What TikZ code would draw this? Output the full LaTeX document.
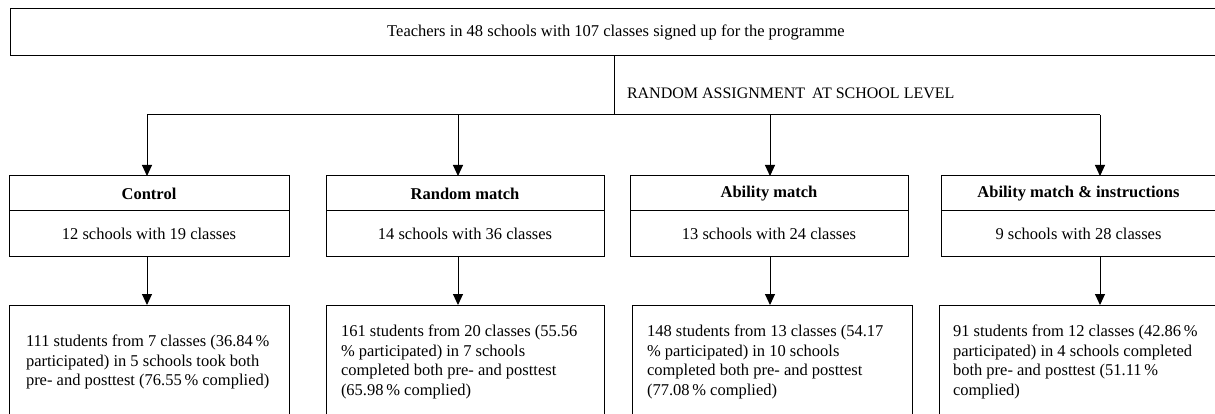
\documentclass[tikz,border=0pt]{standalone}
\usepackage{fontspec}
\setmainfont{Liberation Serif}
\usetikzlibrary{arrows.meta}
\begin{document}
\begin{tikzpicture}[x=1pt,y=-1pt,
  box/.style={draw=black, line width=1pt, inner sep=0pt, outer sep=0pt, anchor=north west,
    font=\fontsize{16.5}{19.5}\selectfont},
  txt/.style={inner sep=0pt, outer sep=0pt, align=left, anchor=west,
    font=\fontsize{16.5}{19.5}\selectfont},
  conn/.style={draw=black, line width=1pt},
  arr/.style={conn, -{Triangle[width=10pt,length=11pt]}}
]
\useasboundingbox (0,0) rectangle (1215,414);
% top box
\node[box, minimum width=1212pt, minimum height=47pt] (top) at (10,9)
  {Teachers in 48 schools with 107 classes signed up for the programme};
% distribution line
\coordinate (split) at (614,115);
\coordinate (c1) at (147,115);
\coordinate (c2) at (458,115);
\coordinate (c3) at (770,115);
\coordinate (c4) at (1100,115);
\draw[conn] (top.south -| split) -- (split);
\draw[conn] (c1) -- (c4);
\node[txt, font=\fontsize{16}{19.5}\selectfont] (lbl) at (627,93) {RANDOM ASSIGNMENT\hspace{7pt}AT SCHOOL LEVEL};
% row 1
\node[box, minimum width=280pt, minimum height=35pt] (t1) at (9,176) {\textbf{Control}};
\node[box, minimum width=280pt, minimum height=45pt] (b1) at (t1.south west) {12 schools with 19 classes};
\node[box, minimum width=278pt, minimum height=35pt] (t2) at (326,176) {\textbf{Random match}};
\node[box, minimum width=278pt, minimum height=45pt] (b2) at (t2.south west) {14 schools with 36 classes};
\node[box, minimum width=278pt, minimum height=35pt] (t3) at (630,176) {\textbf{Ability match}};
\node[box, minimum width=278pt, minimum height=45pt] (b3) at (t3.south west) {13 schools with 24 classes};
\node[box, minimum width=275pt, minimum height=35pt] (t4) at (941,176) {\textbf{Ability match \& instructions}};
\node[box, minimum width=275pt, minimum height=45pt] (b4) at (t4.south west) {9 schools with 28 classes};
\draw[arr] (c1) -- (c1 |- t1.north);
\draw[arr] (c2) -- (c2 |- t2.north);
\draw[arr] (c3) -- (c3 |- t3.north);
\draw[arr] (c4) -- (c4 |- t4.north);
% row 2
\node[box, minimum width=280pt, minimum height=120pt] (r1) at (9,305) {};
\node[box, minimum width=278pt, minimum height=120pt] (r2) at (326,305) {};
\node[box, minimum width=280pt, minimum height=120pt] (r3) at (632,305) {};
\node[box, minimum width=278pt, minimum height=120pt] (r4) at (939,305) {};
\draw[arr] (c1 |- b1.south) -- (c1 |- r1.north);
\draw[arr] (c2 |- b2.south) -- (c2 |- r2.north);
\draw[arr] (c3 |- b3.south) -- (c3 |- r3.north);
\draw[arr] (c4 |- b4.south) -- (c4 |- r4.north);
\node[txt] (x1) at (26,362) {111 students from 7 classes (36.84\,\%\\participated) in 5 schools took both\\pre- and posttest (76.55\,\% complied)};
\node[txt] (x2) at (341,362) {161 students from 20 classes (55.56\\\% participated) in 7 schools\\completed both pre- and posttest\\(65.98\,\% complied)};
\node[txt] (x3) at (647,362) {148 students from 13 classes (54.17\\\% participated) in 10 schools\\completed both pre- and posttest\\(77.08\,\% complied)};
\node[txt] (x4) at (953,362) {91 students from 12 classes (42.86\,\%\\participated) in 4 schools completed\\both pre- and posttest (51.11\,\%\\complied)};
\end{tikzpicture}
\end{document}
